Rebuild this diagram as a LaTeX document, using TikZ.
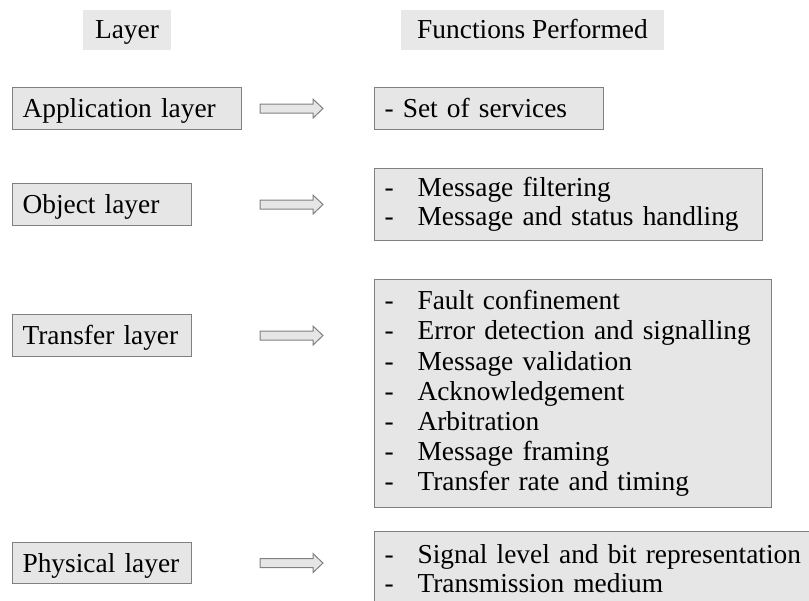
\documentclass[tikz,border=0pt]{standalone}
\usepackage{fontspec}
\setmainfont{Liberation Serif}
\definecolor{boxfill}{RGB}{230,230,230}
\definecolor{hdrfill}{RGB}{232,232,232}
\definecolor{boxline}{RGB}{128,128,128}
\newcommand{\itm}[1]{\makebox[33bp][l]{-}#1}
\begin{document}
\begin{tikzpicture}[x=1bp,y=-1bp,
  font=\fontsize{27.5}{28.6}\selectfont,
  oneline/.style={text height=20bp, text depth=2bp},
  hdr/.style={fill=hdrfill, inner sep=0pt, minimum height=40bp, oneline},
  fbox/.style={draw=boxline, fill=boxfill, line width=1.1bp, inner xsep=10bp,
    inner ysep=0pt, anchor=north west, align=left},
  blockarrow/.style={draw=boxline, fill=boxfill, line width=1bp, line join=miter}
]
\useasboundingbox (0,0) rectangle (809,601);
\clip (0,0) rectangle (809,601);

% headers
\node[hdr, minimum width=88bp] (hl) at (127,30) {Layer};
\node[hdr, minimum width=263bp] (hf) at (532.5,30) {Functions Performed};

% layer boxes
\node[fbox, oneline, text width=209bp, minimum height=42bp] (la) at (12,87) {Application layer};
\node[fbox, oneline, text width=159bp, minimum height=42bp] (lo) at (12,183) {Object layer};
\node[fbox, oneline, text width=159bp, minimum height=42bp] (lt) at (12,314) {Transfer layer};
\node[fbox, oneline, text width=159bp, minimum height=41bp] (lp) at (12,542) {Physical layer};

% function boxes
\node[fbox, oneline, text width=209bp, minimum height=42bp] (fa) at (374,87) {- Set of services};
\node[fbox, text width=368bp, minimum height=72bp] (fo) at (374,168)
  {\itm{Message filtering}\\\itm{Message and status handling}};
\node[fbox, text width=377bp, minimum height=228bp,
  font=\fontsize{27.5}{30.3}\selectfont] (ft) at (374,279)
  {\itm{Fault confinement}\\\itm{Error detection and signalling}\\\itm{Message validation}\\
   \itm{Acknowledgement}\\\itm{Arbitration}\\\itm{Message framing}\\\itm{Transfer rate and timing}};
\node[fbox, text width=430bp, minimum height=80bp, text height=19bp, text depth=34.6bp] (fp) at (374,531)
  {\itm{Signal level and bit representation}\\\itm{Transmission medium}};

% block arrows
\foreach \src/\nm in {la/a1, lo/a2, lt/a3, lp/a4}{
  \coordinate (\nm) at (260,0 |- \src.center);
  \draw[blockarrow] (\nm) -- ++(0,-4.5) -- ++(53,0) -- ++(0,-5) -- ++(10,9.5)
    -- ++(-10,9.5) -- ++(0,-5) -- ++(-53,0) -- cycle;
}
\end{tikzpicture}
\end{document}
